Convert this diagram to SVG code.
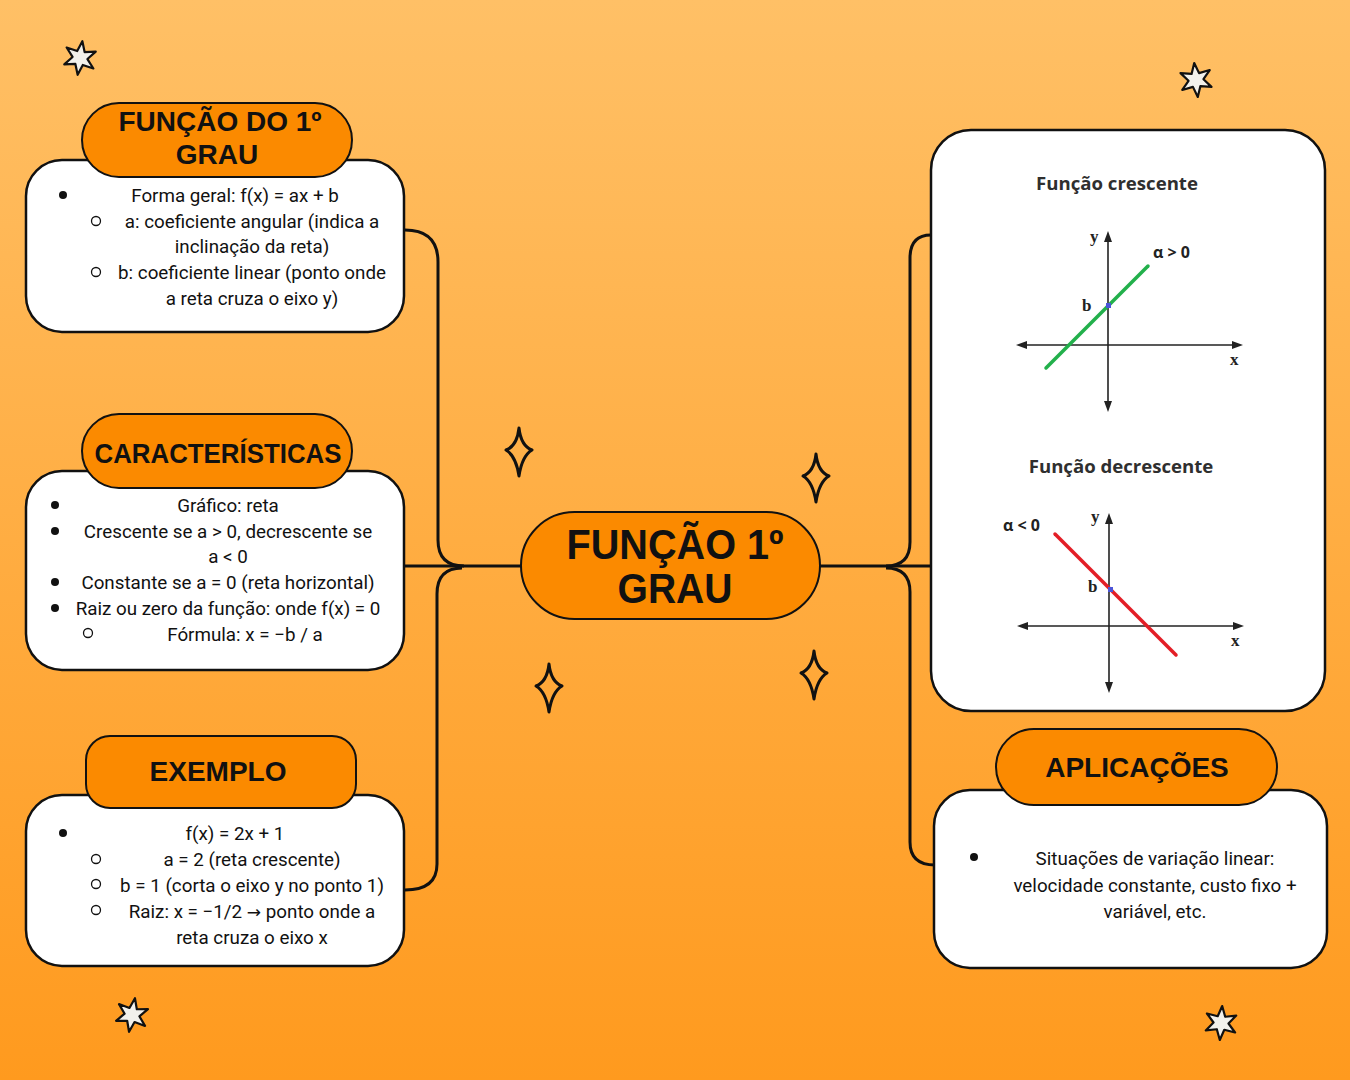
<svg xmlns="http://www.w3.org/2000/svg" xmlns:xlink="http://www.w3.org/1999/xlink" width="1350" height="1080" viewBox="0 0 1350 1080">
<defs>
<linearGradient id="bg" x1="0" y1="0" x2="0" y2="1">
<stop offset="0" stop-color="#FFC066"/>
<stop offset="1" stop-color="#FF9A1E"/>
</linearGradient>
<polygon id="star" points="0,-17 3.75,-6.5 14.7,-8.5 7.5,0 14.7,8.5 3.75,6.5 0,17 -3.75,6.5 -14.7,8.5 -7.5,0 -14.7,-8.5 -3.75,-6.5" fill="#F2F1EC" stroke="#111" stroke-width="2.2" stroke-linejoin="round"/>
<path id="spark" d="M0,-24 Q2,-6 13,-2 Q3,4 0,24 Q-3,4 -13,-2 Q-2,-6 0,-24 Z" fill="none" stroke="#111" stroke-width="3" stroke-linejoin="round"/>
<style>
.hdr{fill:#FB8A00;stroke:#111;stroke-width:2}
.body{fill:#fff;stroke:#111;stroke-width:2.5}
.ht{font-family:"Liberation Sans",Arial,sans-serif;font-weight:bold;font-size:28px;fill:#111;text-anchor:middle}
.bt{font-family:Roboto,"Liberation Sans",sans-serif;font-size:18.8px;fill:#111;text-anchor:middle}
.gt{font-family:"Open Sans","Liberation Sans",sans-serif;font-weight:bold;font-size:18.6px;fill:#2f2f2f;text-anchor:middle}
.lab{font-family:"Liberation Serif",serif;font-weight:bold;font-size:17px;fill:#222}
.alf{font-family:"Open Sans","Liberation Sans",sans-serif;font-weight:bold;font-size:16px;fill:#222}
.arr{font-family:"DejaVu Sans",sans-serif;font-size:17px}
.conn{fill:none;stroke:#111;stroke-width:3}
.ax{stroke:#222;stroke-width:1.6}
.dot{fill:#111}
.ring{fill:none;stroke:#111;stroke-width:1.3}
</style>
</defs>
<rect width="1350" height="1080" fill="url(#bg)"/>

<g id="decor">
<use xlink:href="#star" transform="translate(80,58) rotate(8)"/>
<use xlink:href="#star" transform="translate(1196,80) rotate(-6)"/>
<use xlink:href="#star" transform="translate(132,1015) rotate(10)"/>
<use xlink:href="#star" transform="translate(1221,1023) rotate(4)"/>
<use xlink:href="#spark" transform="translate(519,452)"/>
<use xlink:href="#spark" transform="translate(816,478)"/>
<use xlink:href="#spark" transform="translate(549,688)"/>
<use xlink:href="#spark" transform="translate(814,675)"/>
</g>

<g id="connectors">
<path class="conn" d="M405,230 Q438,230 438,262 L438,540 Q438,566 464,566"/>
<path class="conn" d="M405,566 L521,566"/>
<path class="conn" d="M462,568 Q437,568 437,594 L437,864 Q437,890 405,890"/>
<path class="conn" d="M820,566 L931,566"/>
<path class="conn" d="M931,235 Q910,235 910,258 L910,542 Q910,566 886,566"/>
<path class="conn" d="M886,568 Q910,568 910,592 L910,842 Q910,865 935,865"/>
</g>

<g id="node-funcao">
<rect class="body" x="26" y="160" width="378" height="172" rx="36"/>
<rect class="hdr" x="82" y="103" width="270" height="74" rx="37"/>
<text class="ht" x="220" y="131">FUNÇÃO DO 1º</text>
<text class="ht" x="217" y="164">GRAU</text>
<circle class="dot" cx="63" cy="195" r="4"/>
<text class="bt" x="235" y="202">Forma geral: f(x) = ax + b</text>
<circle class="ring" cx="96" cy="221" r="4.5"/>
<text class="bt" x="252" y="228">a: coeficiente angular (indica a</text>
<text class="bt" x="252" y="253">inclinação da reta)</text>
<circle class="ring" cx="96" cy="272" r="4.5"/>
<text class="bt" x="252" y="279">b: coeficiente linear (ponto onde</text>
<text class="bt" x="252" y="305">a reta cruza o eixo y)</text>
</g>

<g id="node-caracteristicas">
<rect class="body" x="26" y="471" width="378" height="199" rx="36"/>
<rect class="hdr" x="82" y="414" width="270" height="74" rx="37"/>
<text class="ht" x="218" y="463" textLength="247" lengthAdjust="spacingAndGlyphs">CARACTERÍSTICAS</text>
<circle class="dot" cx="55" cy="505" r="4"/>
<text class="bt" x="228" y="512">Gráfico: reta</text>
<circle class="dot" cx="55" cy="531" r="4"/>
<text class="bt" x="228" y="538">Crescente se a &gt; 0, decrescente se</text>
<text class="bt" x="228" y="563">a &lt; 0</text>
<circle class="dot" cx="55" cy="582" r="4"/>
<text class="bt" x="228" y="589">Constante se a = 0 (reta horizontal)</text>
<circle class="dot" cx="55" cy="608" r="4"/>
<text class="bt" x="228" y="615">Raiz ou zero da função: onde f(x) = 0</text>
<circle class="ring" cx="88" cy="633" r="4.5"/>
<text class="bt" x="245" y="641">Fórmula: x = −b / a</text>
</g>

<g id="node-exemplo">
<rect class="body" x="26" y="795" width="378" height="171" rx="36"/>
<rect class="hdr" x="86" y="736" width="270" height="72" rx="24"/>
<text class="ht" x="218" y="781">EXEMPLO</text>
<circle class="dot" cx="63" cy="833" r="4"/>
<text class="bt" x="235" y="840">f(x) = 2x + 1</text>
<circle class="ring" cx="96" cy="859" r="4.5"/>
<text class="bt" x="252" y="866">a = 2 (reta crescente)</text>
<circle class="ring" cx="96" cy="884" r="4.5"/>
<text class="bt" x="252" y="892">b = 1 (corta o eixo y no ponto 1)</text>
<circle class="ring" cx="96" cy="910" r="4.5"/>
<text class="bt" x="252" y="918">Raiz: x = −1/2 <tspan class="arr">→</tspan> ponto onde a</text>
<text class="bt" x="252" y="944">reta cruza o eixo x</text>
</g>

<g id="node-central">
<rect class="hdr" x="521" y="512" width="299" height="107" rx="53.5"/>
<text class="ht" x="675" y="559" style="font-size:42px" textLength="217" lengthAdjust="spacingAndGlyphs">FUNÇÃO 1º</text>
<text class="ht" x="675" y="603" style="font-size:42px" textLength="115" lengthAdjust="spacingAndGlyphs">GRAU</text>
</g>

<g id="node-graficos">
<rect class="body" x="931" y="130" width="394" height="581" rx="40"/>
<text class="gt" x="1117" y="190">Função crescente</text>
<line class="ax" x1="1108" y1="240" x2="1108" y2="403"/>
<polygon points="1108,231 1104,242 1112,242" fill="#222"/>
<polygon points="1108,412 1104,401 1112,401" fill="#222"/>
<line class="ax" x1="1024" y1="345" x2="1234" y2="345"/>
<polygon points="1016,345 1027,341 1027,349" fill="#222"/>
<polygon points="1243,345 1232,341 1232,349" fill="#222"/>
<line x1="1046" y1="368" x2="1148" y2="266" stroke="#22B04B" stroke-width="3.5" stroke-linecap="round"/>
<rect x="1106" y="303" width="5" height="5" fill="#4B55D8"/>
<text class="lab" x="1090" y="242">y</text>
<text class="alf" x="1153" y="258">α &gt; 0</text>
<text class="lab" x="1082" y="311">b</text>
<text class="lab" x="1230" y="365">x</text>

<text class="gt" x="1121" y="473">Função decrescente</text>
<line class="ax" x1="1109" y1="522" x2="1109" y2="685"/>
<polygon points="1109,513 1105,524 1113,524" fill="#222"/>
<polygon points="1109,693 1105,682 1113,682" fill="#222"/>
<line class="ax" x1="1025" y1="626" x2="1235" y2="626"/>
<polygon points="1017,626 1028,622 1028,630" fill="#222"/>
<polygon points="1244,626 1233,622 1233,630" fill="#222"/>
<line x1="1055" y1="534" x2="1176" y2="655" stroke="#E31E26" stroke-width="3.5" stroke-linecap="round"/>
<rect x="1108" y="587" width="5" height="5" fill="#4B55D8"/>
<text class="lab" x="1091" y="522">y</text>
<text class="alf" x="1003" y="531">α &lt; 0</text>
<text class="lab" x="1088" y="592">b</text>
<text class="lab" x="1231" y="646">x</text>
</g>

<g id="node-aplicacoes">
<rect class="body" x="934" y="790" width="393" height="178" rx="36"/>
<rect class="hdr" x="996" y="729" width="281" height="76" rx="38"/>
<text class="ht" x="1137" y="777">APLICAÇÕES</text>
<circle class="dot" cx="974" cy="857" r="4"/>
<text class="bt" x="1155" y="865">Situações de variação linear:</text>
<text class="bt" x="1155" y="892">velocidade constante, custo fixo +</text>
<text class="bt" x="1155" y="918">variável, etc.</text>
</g>
</svg>
